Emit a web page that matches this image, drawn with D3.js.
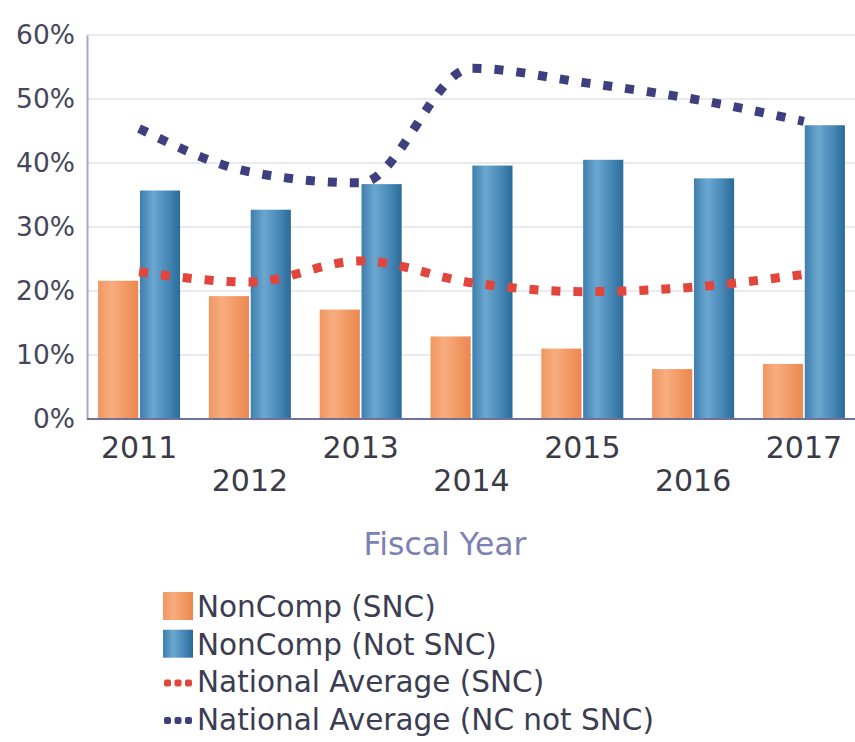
<!DOCTYPE html>
<html>
<head>
<meta charset="utf-8">
<script src="https://cdn.jsdelivr.net/npm/d3@7"></script>
<style>
  body { margin: 0; background: #fff; }
  text { font-family: "DejaVu Sans", Verdana, sans-serif; }
</style>
</head>
<body>
<div id="chart"></div>
<script>
const years = ["2011", "2012", "2013", "2014", "2015", "2016", "2017"];
const nonCompSnc = [21.6, 19.2, 17.1, 12.9, 11.0, 7.8, 8.6];
const nonCompNotSnc = [35.7, 32.7, 36.7, 39.6, 40.5, 37.6, 45.9];
const natAvgSnc = [23.0, 21.4, 24.7, 21.3, 19.9, 20.6, 22.6];
const natAvgNcNotSnc = [45.4, 38.6, 36.9, 54.8, 52.6, 50.0, 46.5];
const yTicks = [0, 10, 20, 30, 40, 50, 60];
const legendLabels = ["NonComp (SNC)", "NonComp (Not SNC)", "National Average (SNC)", "National Average (NC not SNC)"];

let width = 855,
    height = 742;

const plotLeft = 87, plotRight = 856, plotTop = 35, plotBottom = 419;

const svg = d3.select("#chart").append("svg")
    .attr("width", width)
    .attr("height", height);

const defs = svg.append("defs");

const gradient = (id, stops) => {
    const g = defs.append("linearGradient")
        .attr("id", id)
        .attr("x1", "0%").attr("x2", "100%")
        .attr("y1", "0%").attr("y2", "0%");
    g.selectAll("stop")
        .data(stops)
        .enter()
        .append("stop")
        .attr("offset", (d, i) => `${(100 * i) / (stops.length - 1)}%`)
        .attr("stop-color", d => d);
}
gradient("orange", ["#f19660", "#f8ad80", "#f29a65", "#ec874e"]);
gradient("blue", ["#3f7fae", "#6ba7d0", "#4a8bba", "#2c6b98"]);

const x = d3.scaleBand()
    .domain(years)
    .range([plotLeft, plotRight])
    .paddingInner(0.26)
    .paddingOuter(0.1);

const x1 = d3.scaleBand()
    .domain(["snc", "notSnc"])
    .range([0, x.bandwidth()])
    .paddingInner(0.04);

const y = d3.scaleLinear()
    .domain([0, 60])
    .range([plotBottom, plotTop]);

// grid lines
svg.append("g")
    .selectAll("line")
    .data(yTicks.filter(d => d > 0))
    .enter()
    .append("line")
    .attr("x1", plotLeft)
    .attr("x2", width)
    .attr("y1", d => y(d))
    .attr("y2", d => y(d))
    .attr("stroke", "#e3e3ec")
    .attr("stroke-width", 1.5);

// y axis
const yAxis = svg.append("g")
    .attr("transform", `translate(${plotLeft},0)`)
    .call(d3.axisLeft(y).tickValues(yTicks).tickSize(0).tickPadding(12).tickFormat(d => d + "%"));
yAxis.select(".domain").attr("stroke", "#a3a5cc").attr("stroke-width", 2);
yAxis.selectAll("text")
    .attr("font-size", 26.5)
    .attr("font-family", "DejaVu Sans")
    .attr("fill", "#45475a");

// bars
const groups = svg.append("g")
    .selectAll("g")
    .data(years.map((yr, i) => ({ yr, snc: nonCompSnc[i], notSnc: nonCompNotSnc[i] })))
    .enter()
    .append("g")
    .attr("transform", d => `translate(${x(d.yr)},0)`);

groups.append("rect")
    .attr("x", x1("snc"))
    .attr("width", x1.bandwidth())
    .attr("y", d => y(d.snc))
    .attr("height", d => y(0) - y(d.snc))
    .attr("fill", "url(#orange)");

groups.append("rect")
    .attr("x", x1("notSnc"))
    .attr("width", x1.bandwidth())
    .attr("y", d => y(d.notSnc))
    .attr("height", d => y(0) - y(d.notSnc))
    .attr("fill", "url(#blue)");

// x axis
const xAxis = svg.append("g")
    .attr("transform", `translate(0,${plotBottom})`)
    .call(d3.axisBottom(x).tickSize(0).tickPadding(0));
xAxis.select(".domain").attr("d", `M${plotLeft},0H${width}`).attr("stroke", "#6f7199").attr("stroke-width", 2);
xAxis.selectAll("text")
    .attr("font-size", 30)
    .attr("font-family", "DejaVu Sans")
    .attr("fill", "#3a3b46")
    .attr("dy", null)
    .attr("y", (d, i) => i % 2 === 0 ? 39 : 72);

// lines
const line = d3.line()
    .x((d, i) => x(years[i]) + x.bandwidth() / 2)
    .y(d => y(d))
    .curve(d3.curveMonotoneX);

svg.append("path")
    .datum(natAvgSnc)
    .attr("d", line)
    .attr("fill", "none")
    .attr("stroke", "#e2453c")
    .attr("stroke-width", 9)
    .attr("stroke-dasharray", "9,13");

svg.append("path")
    .datum(natAvgNcNotSnc)
    .attr("d", line)
    .attr("fill", "none")
    .attr("stroke", "#3d3f7e")
    .attr("stroke-width", 9)
    .attr("stroke-dasharray", "9,13");

// axis title
svg.append("text")
    .attr("x", 445)
    .attr("y", 555)
    .attr("text-anchor", "middle")
    .attr("font-size", 31.5)
    .attr("fill", "#7d80b5")
    .text("Fiscal Year");

// legend
const legendColors = ["url(#orange)", "url(#blue)", "#e2453c", "#3d3f7e"];
const legend = svg.append("g")
    .selectAll("g")
    .data(legendLabels)
    .enter()
    .append("g")
    .attr("transform", (d, i) => `translate(163,${617 + i * 37.7})`);

legend.filter((d, i) => i < 2)
    .append("rect")
    .attr("y", -25)
    .attr("width", 30)
    .attr("height", 28)
    .attr("fill", (d, i) => legendColors[i]);

legend.filter((d, i) => i >= 2)
    .each(function(d, i) {
        d3.select(this).selectAll("rect")
            .data([0, 1, 2])
            .enter()
            .append("rect")
            .attr("x", k => 1 + k * 10.5)
            .attr("y", -13)
            .attr("width", 7)
            .attr("height", 7)
            .attr("rx", 2)
            .attr("fill", legendColors[i + 2]);
    });

legend.append("text")
    .attr("x", 34)
    .attr("font-size", 29.5)
    .attr("fill", "#3b3d52")
    .text(d => d);
</script>
</body>
</html>
